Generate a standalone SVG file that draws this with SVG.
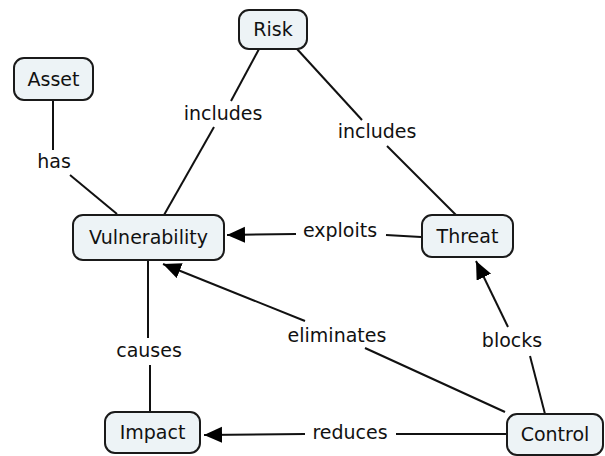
<svg xmlns="http://www.w3.org/2000/svg" width="605" height="456" viewBox="0 0 605 456">
<defs>
<style>
.node rect{fill:#edf3f6;stroke:#1a1a1a;stroke-width:2}
text{font-family:"DejaVu Sans","Verdana",sans-serif;font-size:19px;fill:#111;text-anchor:middle}
.edges line{stroke:#111;stroke-width:2}
</style>
<marker id="ah" markerUnits="userSpaceOnUse" markerWidth="20" markerHeight="18" refX="18" refY="8" orient="auto">
<path d="M0,0 L18,8 L0,16 Z" fill="#000"/>
</marker>
</defs>
<rect width="605" height="456" fill="#fff"/>
<g class="edges">
<line x1="53" y1="100" x2="53" y2="150"/>
<line x1="70" y1="175" x2="117" y2="214"/>
<line x1="259" y1="49" x2="231" y2="101"/>
<line x1="214" y1="127" x2="164" y2="215"/>
<line x1="297" y1="49" x2="362" y2="120"/>
<line x1="387" y1="146" x2="456" y2="215"/>
<line x1="421" y1="237" x2="386" y2="235"/>
<line x1="296" y1="234" x2="227" y2="235" marker-end="url(#ah)"/>
<line x1="148" y1="260" x2="148" y2="338"/>
<line x1="150" y1="365" x2="150" y2="412"/>
<line x1="305" y1="321" x2="163" y2="264" marker-end="url(#ah)"/>
<line x1="365" y1="348" x2="505" y2="412"/>
<line x1="508" y1="327" x2="476" y2="261" marker-end="url(#ah)"/>
<line x1="530" y1="356" x2="545" y2="414"/>
<line x1="507" y1="434" x2="396" y2="434"/>
<line x1="305" y1="434" x2="204" y2="435" marker-end="url(#ah)"/>
</g>
<g class="labels">
<text x="54" y="168">has</text>
<text x="223" y="120">includes</text>
<text x="377" y="138">includes</text>
<text x="340" y="237">exploits</text>
<text x="149" y="357">causes</text>
<text x="337" y="342">eliminates</text>
<text x="512" y="347">blocks</text>
<text x="350" y="439">reduces</text>
</g>
<g id="risk" class="node"><rect x="239" y="10" width="68" height="39" rx="10"/><text x="273" y="36">Risk</text></g>
<g id="asset" class="node"><rect x="14" y="58" width="79" height="42" rx="10"/><text x="53.5" y="86">Asset</text></g>
<g id="vulnerability" class="node"><rect x="73" y="215" width="151" height="45" rx="10"/><text x="148.5" y="244">Vulnerability</text></g>
<g id="threat" class="node"><rect x="422" y="215" width="91" height="42" rx="10"/><text x="467.5" y="243">Threat</text></g>
<g id="impact" class="node"><rect x="105" y="412" width="95" height="41" rx="10"/><text x="152.5" y="439">Impact</text></g>
<g id="control" class="node"><rect x="507" y="414" width="96" height="41" rx="10"/><text x="555" y="441">Control</text></g>
</svg>
